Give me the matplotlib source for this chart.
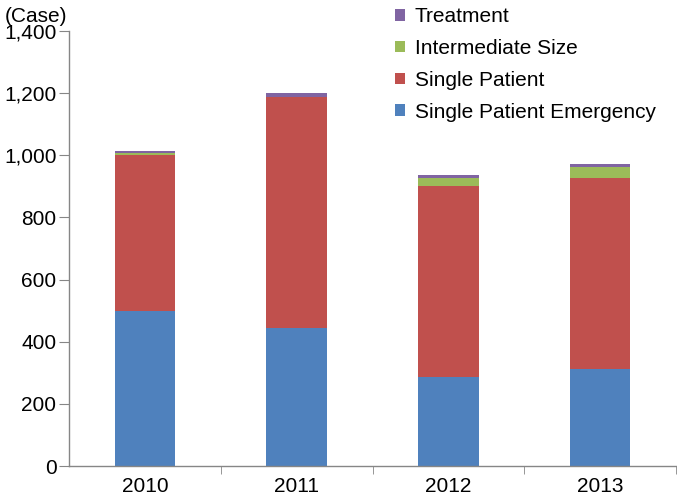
import matplotlib
matplotlib.use("Agg")
import matplotlib.pyplot as plt
import numpy as np

years = ["2010", "2011", "2012", "2013"]
single_patient_emergency = [499, 443, 285, 312]
single_patient = [501, 744, 617, 615]
intermediate_size = [7, 2, 24, 34]
treatment = [7, 11, 10, 11]

series = [
    ("Single Patient Emergency", single_patient_emergency, "#4F81BD"),
    ("Single Patient", single_patient, "#C0504D"),
    ("Intermediate Size", intermediate_size, "#9BBB59"),
    ("Treatment", treatment, "#8064A2"),
]

plt.rcParams['font.family'] = ['Liberation Sans', 'DejaVu Sans']
fig = plt.figure(figsize=(6.77, 4.99), dpi=100)
ax = fig.add_axes([69/677, 33/499, (676-69)/677, (466-31)/499])

x = np.arange(len(years))
bottom = np.zeros(len(years))
handles = []
for name, vals, col in series:
    b = ax.bar(x, vals, width=0.4, bottom=bottom, color=col, label=name, linewidth=0)
    handles.append(b)
    bottom += np.array(vals)

ax.set_xlim(-0.5, len(years) - 0.5)
ax.set_ylim(0, 1400)
ax.set_yticks(range(0, 1401, 200))
ax.set_yticklabels([f"{v:,}" for v in range(0, 1401, 200)], fontsize=15)
ax.set_xticks(x)
ax.set_xticklabels(years, fontsize=15)
ax.tick_params(axis='x', length=0, pad=8)
ax.set_xticks(np.arange(0.5, len(years), 1), minor=True)
ax.tick_params(axis='x', which='minor', length=6, color='#868686', direction='out')
ax.tick_params(axis='y', length=7, color='#868686', direction='out', pad=2)
for s in ['top', 'right']:
    ax.spines[s].set_visible(False)
for s in ['left', 'bottom']:
    ax.spines[s].set_color('#868686')
    ax.spines[s].set_linewidth(1.0)

fig.text(5/677, 1 - 16/499, "(Case)", fontsize=15, va='center', ha='left')

leg = fig.legend(handles[::-1], [s[0] for s in series][::-1],
                 loc='upper left', bbox_to_anchor=(395/677, 1 - 7/499),
                 frameon=False, fontsize=15, handlelength=0.5, handleheight=0.5,
                 handletextpad=0.45, labelspacing=0.62, borderpad=0, borderaxespad=0)

fig.savefig("out.png", dpi=100)
